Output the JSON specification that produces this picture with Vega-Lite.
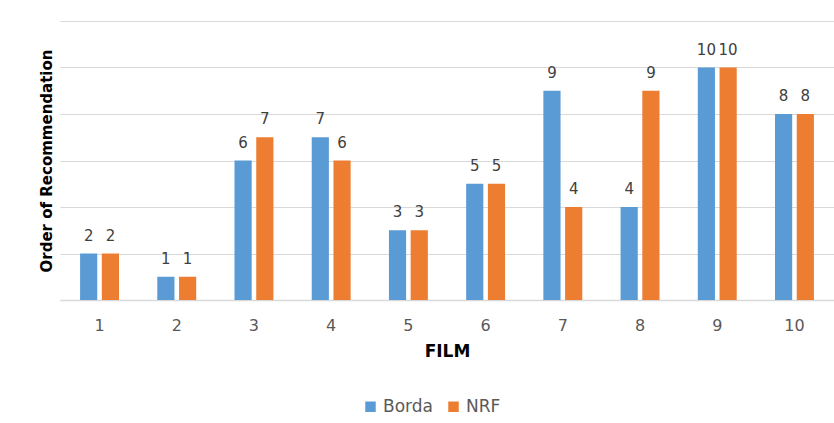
{
  "$schema": "https://vega.github.io/schema/vega-lite/v6.json",
  "width": 774,
  "height": 279,
  "autosize": {"type": "none"},
  "padding": {"left": 60, "top": 21, "right": 0, "bottom": 123},
  "background": "white",
  "config": {
    "font": "DejaVu Sans",
    "view": {"stroke": null}
  },
  "data": {
    "values": [
      {"film": "1", "method": "Borda", "order": 2},
      {"film": "1", "method": "NRF", "order": 2},
      {"film": "2", "method": "Borda", "order": 1},
      {"film": "2", "method": "NRF", "order": 1},
      {"film": "3", "method": "Borda", "order": 6},
      {"film": "3", "method": "NRF", "order": 7},
      {"film": "4", "method": "Borda", "order": 7},
      {"film": "4", "method": "NRF", "order": 6},
      {"film": "5", "method": "Borda", "order": 3},
      {"film": "5", "method": "NRF", "order": 3},
      {"film": "6", "method": "Borda", "order": 5},
      {"film": "6", "method": "NRF", "order": 5},
      {"film": "7", "method": "Borda", "order": 9},
      {"film": "7", "method": "NRF", "order": 4},
      {"film": "8", "method": "Borda", "order": 4},
      {"film": "8", "method": "NRF", "order": 9},
      {"film": "9", "method": "Borda", "order": 10},
      {"film": "9", "method": "NRF", "order": 10},
      {"film": "10", "method": "Borda", "order": 8},
      {"film": "10", "method": "NRF", "order": 8}
    ]
  },
  "encoding": {
    "x": {
      "field": "film",
      "type": "ordinal",
      "sort": null,
      "scale": {"paddingInner": 0.496, "paddingOuter": 0.26},
      "axis": {
        "title": "FILM",
        "titleFontSize": 17,
        "titleFontWeight": "bold",
        "titleColor": "#000000",
        "titlePadding": 10,
        "labelAngle": 0,
        "labelFontSize": 16,
        "labelFont": "DejaVu Sans",
        "labelColor": "#595959",
        "labelPadding": 17,
        "ticks": false,
        "domainColor": "#d9d9d9",
        "domainWidth": 1.5
      }
    },
    "xOffset": {"field": "method", "type": "nominal", "scale": {"paddingInner": 0.21}},
    "y": {
      "field": "order",
      "type": "quantitative",
      "scale": {"domain": [0, 12]},
      "axis": {
        "title": "Order of Recommendation",
        "titleFontSize": 15,
        "titleFontWeight": "bold",
        "titleColor": "#000000",
        "titlePadding": 6,
        "values": [0, 2, 4, 6, 8, 10, 12],
        "labels": false,
        "ticks": false,
        "domain": false,
        "gridColor": "#d9d9d9",
        "gridWidth": 1.2
      }
    }
  },
  "layer": [
    {
      "mark": {"type": "bar"},
      "encoding": {
        "color": {
          "field": "method",
          "type": "nominal",
          "scale": {"domain": ["Borda", "NRF"], "range": ["#5B9BD5", "#ED7D31"]},
          "legend": {
            "title": null,
            "orient": "none",
            "legendX": 302,
            "legendY": 377,
            "direction": "horizontal",
            "symbolType": "square",
            "symbolSize": 110,
            "symbolStrokeWidth": 0,
            "labelFontSize": 17,
            "labelColor": "#595959",
            "columnPadding": 12
          }
        }
      }
    },
    {
      "mark": {"type": "text", "baseline": "bottom", "dy": -10, "fontSize": 15, "color": "#404040"},
      "encoding": {"text": {"field": "order", "type": "quantitative"}}
    }
  ]
}
